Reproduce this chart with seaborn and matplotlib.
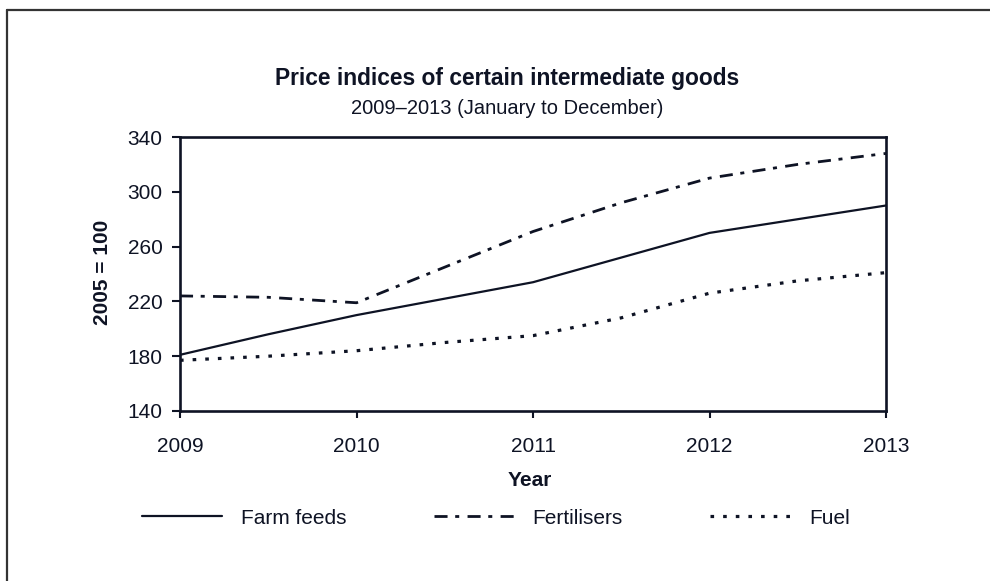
import matplotlib
matplotlib.use("Agg")
import matplotlib.pyplot as plt
from matplotlib.lines import Line2D
import seaborn as sns
import pandas as pd

years = [2009, 2009.5, 2010, 2010.5, 2011, 2011.5, 2012, 2012.5, 2013]
farm_feeds = [181, 196, 210, 222, 234, 252, 270, 280, 290]
fertilisers = [224, 223, 219, 245, 271, 292, 310, 320, 328]
fuel = [177, 180, 184, 190, 195, 208, 226, 235, 241]
series_names = ["Farm feeds", "Fertilisers", "Fuel"]
x_ticks = [2009, 2010, 2011, 2012, 2013]
y_ticks = [140, 180, 220, 260, 300, 340]

sns.set_theme(style="white")
plt.rcParams["font.family"] = ["Liberation Sans", "DejaVu Sans"]
plt.rcParams["lines.scale_dashes"] = False

ink = "#0e1324"
W, H = 990, 581
fig = plt.figure(figsize=(W / 100, H / 100), dpi=100)
ax = fig.add_axes([180 / W, 1 - 411 / H, (886 - 180) / W, (411 - 137) / H])

df = pd.DataFrame({
    "Year": years * 3,
    "Index": farm_feeds + fertilisers + fuel,
    "Series": [s for s in series_names for _ in years],
})

styles = {
    "Farm feeds": dict(dashes=(None, None), lw=1.6),
    "Fertilisers": dict(dashes=(9.4, 5.5, 2.9, 6.0), lw=2.0),
    "Fuel": dict(dashes=(2.6, 6.5), lw=2.3),
}

handles = []
for name in series_names:
    sub = df[df["Series"] == name]
    sns.lineplot(data=sub, x="Year", y="Index", ax=ax, color=ink,
                 lw=styles[name]["lw"], legend=False)
    ln = ax.lines[-1]
    d = styles[name]["dashes"]
    if d[0] is not None:
        ln.set_dashes(d)
    h = Line2D([0], [0], color=ink, lw=styles[name]["lw"])
    if d[0] is not None:
        h.set_dashes(d)
    handles.append(h)

ax.set_xlim(2009, 2013)
ax.set_ylim(140, 340)
ax.set_xticks(x_ticks)
ax.set_xticklabels([str(t) for t in x_ticks])
ax.set_yticks(y_ticks)
ax.set_xlabel("")
ax.set_ylabel("")
for sp in ax.spines.values():
    sp.set_visible(True)
    sp.set_color(ink)
    sp.set_linewidth(1.9)
ax.tick_params(axis="x", direction="out", length=5, width=1.5, pad=14,
               labelsize=15, colors=ink, bottom=True)
ax.tick_params(axis="y", direction="out", length=6, width=1.5, pad=6.5,
               labelsize=15, colors=ink, left=True)
ax.grid(False)

fig.text(507 / W, 1 - 79 / H, "Price indices of certain intermediate goods",
         ha="center", va="center", fontsize=16.4, fontweight="bold", color=ink)
fig.text(507 / W, 1 - 109 / H, "2009\u20132013 (January to December)",
         ha="center", va="center", fontsize=14.5, color=ink)
fig.text(530 / W, 1 - 481 / H, "Year", ha="center", va="center",
         fontsize=15, fontweight="bold", color=ink)
fig.text(103 / W, 1 - 272 / H, "2005 = 100", ha="center", va="center",
         rotation=90, fontsize=15, fontweight="bold", color=ink)

leg = fig.legend(handles, series_names, loc="center", ncol=3,
                 bbox_to_anchor=(496 / W, 1 - 518 / H), frameon=False,
                 fontsize=15, handlelength=3.85, handletextpad=0.9,
                 columnspacing=4.2)
for t in leg.get_texts():
    t.set_color(ink)

# outer frame (top and left edges visible)
fig.add_artist(Line2D([7 / W, 7 / W], [0, 1 - 10 / H], transform=fig.transFigure,
                      color="#333333", lw=1.6))
fig.add_artist(Line2D([7 / W, 1], [1 - 10 / H, 1 - 10 / H], transform=fig.transFigure,
                      color="#333333", lw=1.6))

fig.savefig("out.png", dpi=100)
